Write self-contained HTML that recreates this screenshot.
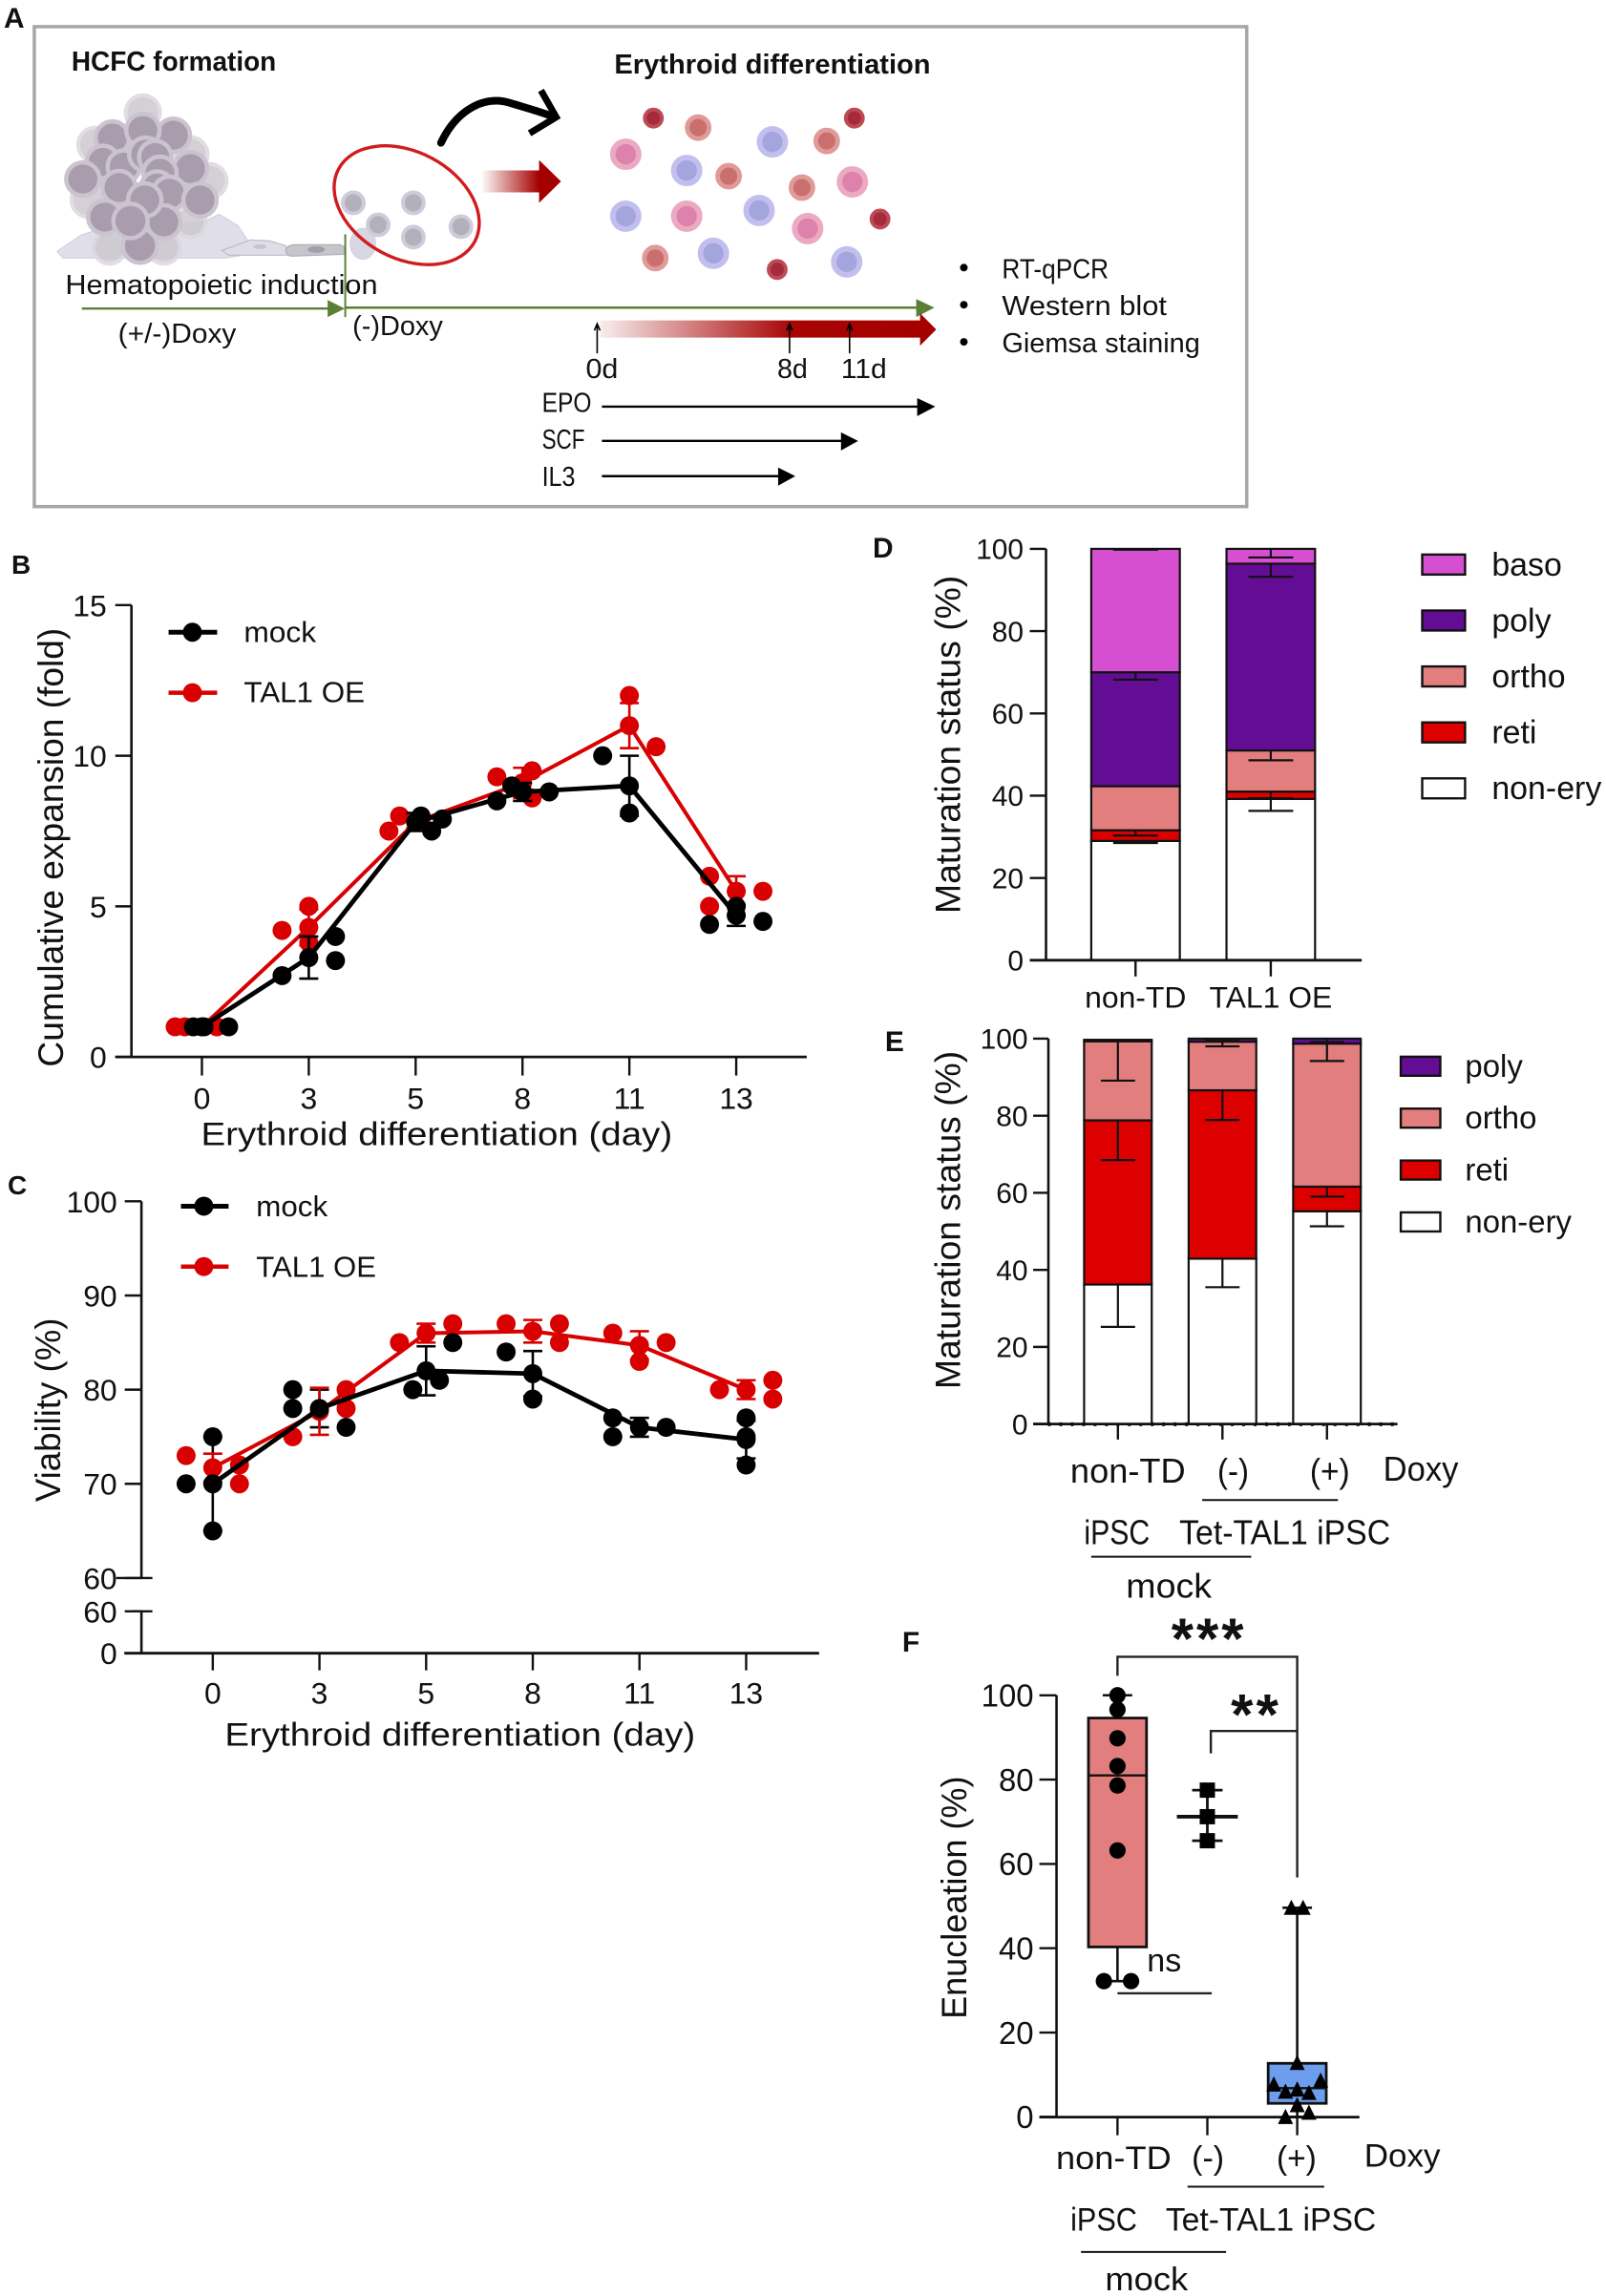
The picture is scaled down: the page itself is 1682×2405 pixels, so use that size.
<!DOCTYPE html>
<html lang="en">
<head>
<meta charset="utf-8">
<title>HCFC erythroid differentiation figure</title>
<style>
html,body{margin:0;padding:0;background:#fff;}
svg{display:block;font-family:"Liberation Sans",Arial,sans-serif;}
text{fill:#111;}
.t{font-size:29px;}
.b{font-weight:bold;}
.pl{font-weight:bold;font-size:30px;}
</style>
</head>
<body>
<svg id="fig" xmlns="http://www.w3.org/2000/svg" width="1682" height="2405" viewBox="0 0 1682 2405">
<defs>
<linearGradient id="g1" gradientUnits="userSpaceOnUse" x1="505" y1="0" x2="566" y2="0"><stop offset="0" stop-color="#fff"/><stop offset="1" stop-color="#a50000"/></linearGradient>
<linearGradient id="g2" gradientUnits="userSpaceOnUse" x1="630" y1="0" x2="966" y2="0"><stop offset="0" stop-color="#f8eeee"/><stop offset="0.6" stop-color="#a80505"/><stop offset="1" stop-color="#a50000"/></linearGradient>
</defs>
<rect width="1682" height="2405" fill="#fff"/>

<g id="panelA" transform="scale(0.9975)">
<text class="pl" x="4" y="29">A</text>
<rect x="36" y="28" width="1273" height="504" fill="none" stroke="#a6a6a6" stroke-width="3.5"/>
<text class="t b" x="75" y="74" textLength="215" lengthAdjust="spacingAndGlyphs">HCFC formation</text>
<text class="t b" x="645" y="77" textLength="332" lengthAdjust="spacingAndGlyphs">Erythroid differentiation</text>

<path d="M60,264 L70,257 L85,247 L100,242 L213,233 L230,225 L250,237 L265,260 L260,267 L237,271 L66,271 Z" fill="#dfdee9" stroke="#cfcdda" stroke-width="1"/>
<path d="M233,263 L263,252 L283,253 L300,258 L303,268 L240,268 Z" fill="#dfdde8" stroke="#bdbbc6" stroke-width="1.2"/>
<path d="M300,262 Q302,257 310,257 L357,257 Q362,258 362,263 L362,267 L306,269 Q300,268 300,262 Z" fill="#c7c5cc" stroke="#b0aeb6" stroke-width="1.2"/>
<ellipse cx="332" cy="262" rx="9" ry="3.5" fill="#a09ea8"/>
<ellipse cx="273" cy="259" rx="7" ry="2.5" fill="#c6c4d0"/>
<ellipse cx="381" cy="256" rx="14" ry="17" fill="#d8d6e2"/>

<g fill="#cdc8d0" stroke="#dcd8df" stroke-width="4" opacity="0.85">
<circle cx="150" cy="118" r="18"/><circle cx="100" cy="152" r="18"/><circle cx="200" cy="162" r="18"/><circle cx="220" cy="190" r="18"/><circle cx="93" cy="210" r="18"/><circle cx="115" cy="260" r="17"/><circle cx="200" cy="233" r="16"/><circle cx="172" cy="260" r="17"/>
</g>
<g fill="#a99dad" stroke="#cbc4d0" stroke-width="4.5">
<circle cx="182" cy="142" r="17.5"/><circle cx="118" cy="145" r="17.5"/><circle cx="150" cy="137" r="17.5"/><circle cx="108" cy="170" r="17"/><circle cx="130" cy="175" r="17"/><circle cx="153" cy="162" r="17.5"/><circle cx="163" cy="165" r="17"/><circle cx="200" cy="177" r="17.5"/><circle cx="87" cy="188" r="17.5"/><circle cx="168" cy="182" r="17.5"/><circle cx="165" cy="197" r="17"/><circle cx="178" cy="203" r="17.5"/><circle cx="125" cy="197" r="17.5"/><circle cx="210" cy="210" r="17.5"/><circle cx="147" cy="258" r="18"/><circle cx="172" cy="233" r="17.5"/><circle cx="152" cy="210" r="17.5"/><circle cx="110" cy="228" r="17.5"/><circle cx="137" cy="232" r="18"/>
</g>
<g fill="#b3b0bc" stroke="#cfccd9" stroke-width="4">
<circle cx="371" cy="213" r="11"/><circle cx="434" cy="213" r="11"/><circle cx="397" cy="236" r="11"/><circle cx="434" cy="249" r="11"/><circle cx="484" cy="238" r="11"/>
</g>
<ellipse cx="427" cy="215.5" rx="81" ry="56" transform="rotate(28 427 215.5)" fill="none" stroke="#d01c1f" stroke-width="3.4"/>
<path d="M463,150 C480,114 510,100 535,108 C555,114 570,118 582,123" fill="none" stroke="#000" stroke-width="8" stroke-linecap="round"/>
<path d="M568,95 L584,123 L556,140" fill="none" stroke="#000" stroke-width="7"/>
<path d="M505,179 L566,179 L566,168 L589,190.5 L566,213 L566,202 L505,202 Z" fill="url(#g1)"/>

<g stroke-width="3.9" fill="#a52a3a" stroke="#bd4a55">
<circle cx="686" cy="124" r="9"/><circle cx="897" cy="124" r="9"/><circle cx="924" cy="230" r="9"/><circle cx="816" cy="283" r="9"/>
</g>
<g stroke-width="4.9" fill="#c9706e" stroke="#e09a98">
<circle cx="733" cy="134" r="11.5"/><circle cx="868" cy="148" r="11.5"/><circle cx="765" cy="185" r="11.5"/><circle cx="842" cy="197" r="11.5"/><circle cx="688" cy="271" r="11.5"/>
</g>
<g stroke-width="5.8" fill="#dd82ac" stroke="#eba9c2">
<circle cx="657" cy="162" r="13.6"/><circle cx="895" cy="191" r="13.6"/><circle cx="721" cy="227" r="13.6"/><circle cx="848" cy="240" r="13.6"/>
</g>
<g stroke-width="5.8" fill="#a5a5de" stroke="#c2bfee">
<circle cx="811" cy="149" r="13.6"/><circle cx="721" cy="179" r="13.6"/><circle cx="657" cy="227" r="13.6"/><circle cx="797" cy="221" r="13.6"/><circle cx="749" cy="266" r="13.6"/><circle cx="889" cy="275" r="13.6"/>
</g>

<text class="t" x="68.5" y="309" textLength="328" lengthAdjust="spacingAndGlyphs">Hematopoietic induction</text>
<line x1="362.5" y1="246" x2="362.5" y2="333" stroke="#5b7f34" stroke-width="2"/>
<line x1="86" y1="324" x2="346" y2="324" stroke="#5b7f34" stroke-width="2.5"/>
<path d="M344,315 L362,324 L344,333 Z" fill="#5b7f34"/>
<line x1="363" y1="323" x2="964" y2="323" stroke="#5b7f34" stroke-width="2.5"/>
<path d="M962,314 L981,323 L962,333 Z" fill="#5b7f34"/>
<text class="t" x="124" y="360" textLength="124" lengthAdjust="spacingAndGlyphs">(+/-)Doxy</text>
<text class="t" x="370" y="352" textLength="95" lengthAdjust="spacingAndGlyphs">(-)Doxy</text>
<path d="M630,336.5 L966,336.5 L966,329 L983,346 L966,363 L966,354.5 L630,354.5 Z" fill="url(#g2)"/>
<g stroke="#000" stroke-width="1.6" fill="none">
<path d="M627,371 L627,341 M624,347 L627,340 L630,347"/><path d="M829,371 L829,341 M826,347 L829,340 L832,347"/><path d="M892,371 L892,341 M889,347 L892,340 L895,347"/>
</g>
<text class="t" x="615" y="397" textLength="34" lengthAdjust="spacingAndGlyphs">0d</text>
<text class="t" x="816" y="397" textLength="32" lengthAdjust="spacingAndGlyphs">8d</text>
<text class="t" x="883" y="397" textLength="48" lengthAdjust="spacingAndGlyphs">11d</text>
<text class="t" x="569" y="432.5" textLength="52" lengthAdjust="spacingAndGlyphs">EPO</text>
<line x1="632" y1="427" x2="965" y2="427" stroke="#000" stroke-width="2.4"/>
<path d="M963,418 L982,427 L963,437 Z" fill="#000"/>
<text class="t" x="569" y="471" textLength="45" lengthAdjust="spacingAndGlyphs">SCF</text>
<line x1="632" y1="463" x2="885" y2="463" stroke="#000" stroke-width="2.4"/>
<path d="M883,454 L901,463 L883,473 Z" fill="#000"/>
<text class="t" x="569" y="510.5" textLength="35" lengthAdjust="spacingAndGlyphs">IL3</text>
<line x1="632" y1="500" x2="819" y2="500" stroke="#000" stroke-width="2.4"/>
<path d="M817,491 L835,500 L817,510 Z" fill="#000"/>
<circle cx="1012" cy="281" r="4" fill="#000"/>
<circle cx="1012" cy="320" r="4" fill="#000"/>
<circle cx="1012" cy="359" r="4" fill="#000"/>
<text class="t" x="1052" y="292" textLength="112" lengthAdjust="spacingAndGlyphs">RT-qPCR</text>
<text class="t" x="1052" y="331" textLength="173" lengthAdjust="spacingAndGlyphs">Western blot</text>
<text class="t" x="1052" y="370" textLength="208" lengthAdjust="spacingAndGlyphs">Giemsa staining</text>
</g>

<g id="panelB" transform="translate(0,560) scale(0.9975) translate(0,-560)">
<text class="pl" x="12" y="601" style="font-size:28px">B</text>
<text x="0" y="0" transform="translate(66,1119) rotate(-90)" style="font-size:37px" textLength="461" lengthAdjust="spacingAndGlyphs">Cumulative expansion (fold)</text>
<text x="211" y="1201" style="font-size:34px" textLength="495" lengthAdjust="spacingAndGlyphs">Erythroid differentiation (day)</text>
<line x1="177" y1="662.5" x2="228" y2="662.5" stroke="#000" stroke-width="5"/>
<circle cx="202" cy="662.5" r="10" fill="#000"/>
<text x="256" y="673" style="font-size:31px" textLength="76" lengthAdjust="spacingAndGlyphs">mock</text>
<line x1="177" y1="726" x2="228" y2="726" stroke="#d80000" stroke-width="4.5"/>
<circle cx="202" cy="726" r="10" fill="#d80000"/>
<text x="256" y="736" style="font-size:31px" textLength="127" lengthAdjust="spacingAndGlyphs">TAL1 OE</text>
</g>

<g id="panelC" transform="translate(0,1210) scale(0.9975) translate(0,-1210)">
<text class="pl" x="8" y="1251" style="font-size:28px">C</text>
<text x="0" y="0" transform="translate(63,1574) rotate(-90)" style="font-size:37px" textLength="193" lengthAdjust="spacingAndGlyphs">Viability (%)</text>
<text x="236" y="1830" style="font-size:34px" textLength="494" lengthAdjust="spacingAndGlyphs">Erythroid differentiation (day)</text>
<line x1="190" y1="1263.6" x2="240" y2="1263.6" stroke="#000" stroke-width="5"/>
<circle cx="214" cy="1263.6" r="10" fill="#000"/>
<text x="269" y="1274" style="font-size:31px" textLength="75" lengthAdjust="spacingAndGlyphs">mock</text>
<line x1="190" y1="1327" x2="240" y2="1327" stroke="#d80000" stroke-width="4.5"/>
<circle cx="214" cy="1327" r="10" fill="#d80000"/>
<text x="269" y="1338" style="font-size:31px" textLength="126" lengthAdjust="spacingAndGlyphs">TAL1 OE</text>
</g>

<g id="panelD" transform="translate(900,540) scale(0.9975) translate(-900,-540)">
<text class="pl" x="914" y="584">D</text>
<text x="0" y="0" transform="translate(1006,958) rotate(-90)" style="font-size:37px" textLength="355" lengthAdjust="spacingAndGlyphs">Maturation status (%)</text>
</g>

<g id="panelE" transform="translate(900,1060) scale(0.9975) translate(-900,-1060)">
<text class="pl" x="927" y="1101">E</text>
<text x="0" y="0" transform="translate(1006,1456) rotate(-90)" style="font-size:37px" textLength="355" lengthAdjust="spacingAndGlyphs">Maturation status (%)</text>
<line x1="1098" y1="1493" x2="1465" y2="1493" stroke="#111" stroke-width="4" stroke-dasharray="3 9"/>
<text x="1121.5" y="1554" style="font-size:36px" textLength="121" lengthAdjust="spacingAndGlyphs">non-TD</text>
<text x="1276" y="1554" style="font-size:36px" textLength="33" lengthAdjust="spacingAndGlyphs">(-)</text>
<text x="1373" y="1554" style="font-size:36px" textLength="42" lengthAdjust="spacingAndGlyphs">(+)</text>
<text x="1450" y="1552" style="font-size:36px" textLength="79" lengthAdjust="spacingAndGlyphs">Doxy</text>
<line x1="1260" y1="1572.5" x2="1402.5" y2="1572.5" stroke="#111" stroke-width="2"/>
<text x="1136" y="1619" style="font-size:36px" textLength="69" lengthAdjust="spacingAndGlyphs">iPSC</text>
<text x="1236" y="1619" style="font-size:36px" textLength="221.5" lengthAdjust="spacingAndGlyphs">Tet-TAL1 iPSC</text>
<line x1="1143.5" y1="1632" x2="1311.5" y2="1632" stroke="#111" stroke-width="2"/>
<text x="1180" y="1675" style="font-size:36px" textLength="90" lengthAdjust="spacingAndGlyphs">mock</text>
</g>

<g id="panelF" transform="translate(920,1680) scale(0.9975) translate(-920,-1680)">
<text class="pl" x="945" y="1730">F</text>
<text x="0" y="0" transform="translate(1012,2116) rotate(-90)" style="font-size:37px" textLength="255" lengthAdjust="spacingAndGlyphs">Enucleation (%)</text>
<path d="M1171,1755.6 L1171,1735.6 L1359.7,1735.6 L1359.7,1967.4" fill="none" stroke="#222" stroke-width="2.4"/>
<path d="M1269,1837 L1269,1813.5 L1359.7,1813.5" fill="none" stroke="#222" stroke-width="2.4"/>
<text class="b" x="1227.5" y="1737" style="font-size:60px" textLength="76" lengthAdjust="spacing">***</text>
<text class="b" x="1290" y="1817" style="font-size:60px" textLength="50" lengthAdjust="spacing">**</text>
<text x="1202" y="2066" style="font-size:34px" textLength="36" lengthAdjust="spacingAndGlyphs">ns</text>
<line x1="1171" y1="2089" x2="1270" y2="2089" stroke="#222" stroke-width="2.4"/>
<text x="1106.5" y="2273.4" style="font-size:34px" textLength="121" lengthAdjust="spacingAndGlyphs">non-TD</text>
<text x="1249" y="2273.4" style="font-size:34px" textLength="34" lengthAdjust="spacingAndGlyphs">(-)</text>
<text x="1338" y="2273.4" style="font-size:34px" textLength="42" lengthAdjust="spacingAndGlyphs">(+)</text>
<text x="1430" y="2271" style="font-size:34px" textLength="80" lengthAdjust="spacingAndGlyphs">Doxy</text>
<line x1="1244.6" y1="2292" x2="1388" y2="2292" stroke="#111" stroke-width="2"/>
<text x="1121.6" y="2338" style="font-size:34px" textLength="70" lengthAdjust="spacingAndGlyphs">iPSC</text>
<text x="1221.6" y="2338" style="font-size:34px" textLength="221" lengthAdjust="spacingAndGlyphs">Tet-TAL1 iPSC</text>
<line x1="1132.7" y1="2360.6" x2="1285" y2="2360.6" stroke="#111" stroke-width="2"/>
<text x="1158" y="2401" style="font-size:34px" textLength="87" lengthAdjust="spacingAndGlyphs">mock</text>
</g>
</svg>

<script>
/* ---------- Panel B data: cumulative expansion (fold) ---------- */
const dayLabels = ['0', '3', '5', '8', '11', '13'];
const expansionTicks = [0, 5, 10, 15];
const expMockMean = [1, 3.3, 7.8, 8.8, 9, 4.7];
const expMockSD = [0, 0.7, 0.3, 0.3, 1, 0.35];
const expMockReps = [[1, 1, 1], [2.7, 4, 3.2], [8, 7.5, 7.9], [8.5, 9, 8.8], [10, 8.1], [4.4, 5, 4.5]];
const expMockSwarm = [[-0.08, 0.02, 0.25], [-0.25, 0.25, 0.25], [0.05, 0.15, 0.25], [-0.24, -0.1, 0.25], [-0.25, 0], [-0.25, 0, 0.25]];
const expTalMean = [1, 4.3, 7.8, 9.1, 11, 5.5];
const expTalSD = [0, 0.6, 0.2, 0.5, 0.75, 0.5];
const expTalReps = [[1, 1, 1], [4.2, 5, 3.8], [7.5, 8, 7.8], [9.3, 9.5, 8.6], [12, 10.3], [6, 5, 5.5]];
const expTalSwarm = [[-0.25, -0.16, 0.14], [-0.25, 0, 0], [-0.25, -0.15, 0.05], [-0.24, 0.09, 0.09], [0, 0.25], [-0.25, -0.25, 0.25]];

/* ---------- Panel C data: viability (%) ---------- */
const viabilityTicks = [60, 70, 80, 90, 100];
const viabilityLowerTicks = [0, 60];
const viaMockMean = [70, 78, 82, 81.7, 76, 74.7];
const viaMockSD = [5, 2, 2.6, 2.4, 1, 2];
const viaMockReps = [[70, 75, 65], [80, 78, 76], [80, 81, 85], [84, 79], [77, 75, 76], [77, 75, 72]];
const viaMockSwarm = [[-0.25, 0, 0], [-0.25, -0.25, 0.25], [-0.125, 0.125, 0.25], [-0.25, 0], [-0.25, -0.25, 0.25], [0, 0, 0]];
const viaTalMean = [71.7, 77.7, 86, 86.2, 84.7, 80];
const viaTalSD = [1.5, 2.5, 1, 1.2, 1.5, 1];
const viaTalReps = [[73, 72, 70], [75, 80, 78], [85, 87], [87, 87, 85], [86, 83, 85], [80, 81, 79]];
const viaTalSwarm = [[-0.25, 0.25, 0.25], [-0.25, 0.25, 0.25], [-0.25, 0.25], [-0.25, 0.25, 0.25], [-0.25, 0, 0.25], [-0.25, 0.25, 0.25]];

/* ---------- Panel D data: stacked maturation status (%) ---------- */
const statusTicks = [0, 20, 40, 60, 80, 100];
const dGroups = ['non-TD', 'TAL1 OE'];
const dNonEry = [29, 39.2];
const dReti = [2.6, 1.8];
const dOrtho = [10.7, 10];
const dPoly = [27.7, 45.4];
const dBaso = [30, 3.6];
const dNonEryErr = [0.5, 2.9];
const dRetiErr = [1.3, 1.6];
const dOrthoErr = [0, 2.4];
const dPolyErr = [1.8, 3.2];
const dBasoErr = [0.2, 2.1];
const dLegend = ['baso', 'poly', 'ortho', 'reti', 'non-ery'];

/* ---------- Panel E data: stacked maturation status (%) ---------- */
const eNonEry = [36.2, 42.9, 55.2];
const eReti = [42.6, 43.7, 6.4];
const eOrtho = [20.5, 12.6, 37.1];
const ePoly = [0.4, 0.8, 1.3];
const eNonEryErr = [11, 7.4, 3.9];
const eRetiErr = [10.3, 7.7, 2.6];
const eOrthoErr = [10.2, 1.2, 4.5];
const ePolyErr = [0, 0.3, 0.9];
const eLegend = ['poly', 'ortho', 'reti', 'non-ery'];

/* ---------- Panel F data: enucleation (%) ---------- */
const enucTicks = [0, 20, 40, 60, 80, 100];
const enucNonTD = [100, 96.6, 89.8, 83.2, 78.6, 63.2, 32.2, 32.2];
const enucNonTDSwarm = [0, 0, 0, 0, 0, 0, -1.16, 1.16];
const enucNonTDBox = [40.3, 81, 94.6];
const enucMinus = [77.5, 71.2, 65.5];
const enucPlus = [49.6, 49.6, 12.8, 7.7, 8.6, 6, 6.5, 5.7, 2.8, 1, 0];
const enucPlusSwarm = [-0.5, 0.5, 0, -2, 2, -1, 0, 1, 0, 1, -1];
const enucPlusBox = [3.2, 6.8, 12.7];

const SVGNS = 'http://www.w3.org/2000/svg';
const INK = '#111';
const RED = '#d80000';
const segColors = { baso: '#d64fd0', poly: '#630d94', ortho: '#e37e7e', reti: '#dc0000', 'non-ery': '#ffffff' };

function mk(tag, attrs, parent) {
  const el = document.createElementNS(SVGNS, tag);
  for (const k in attrs) el.setAttribute(k, attrs[k]);
  parent.appendChild(el);
  return el;
}

function yAxis(parent, x, x0, top, bottom, ticks, yFn, fontSize, labelRight, prefix) {
  const axis = mk('line', { x1: x, x2: x, y1: top, y2: bottom, stroke: INK, 'stroke-width': 2.6 }, parent);
  
  
  ticks.forEach(function (t) {
    const tick = mk('line', { x1: x0, x2: x, y1: yFn(t), y2: yFn(t), stroke: INK, 'stroke-width': 2.4 }, parent);
    
    
    const lab = mk('text', { x: labelRight, y: yFn(t) + fontSize * 0.36, 'text-anchor': 'end', 'font-size': fontSize }, parent);
    lab.textContent = String(t);
    
    
  });
}

function xAxis(parent, x0, x1, y, tickBottom, n, xFn, prefix) {
  const axis = mk('line', { x1: x0, x2: x1, y1: y, y2: y, stroke: INK, 'stroke-width': 2.8 }, parent);
  
  
  for (let i = 0; i < n; i++) {
    const tick = mk('line', { x1: xFn(i), x2: xFn(i), y1: y, y2: tickBottom, stroke: INK, 'stroke-width': 2.4 }, parent);
    
    
  }
}

function xLabels(parent, labels, xFn, y, fontSize, prefix) {
  labels.forEach(function (l, i) {
    const t = mk('text', { x: xFn(i), y: y, 'text-anchor': 'middle', 'font-size': fontSize }, parent);
    t.textContent = l;
    
    
  });
}

function errorBars(parent, means, sd, xFn, yFn, color, label) {
  means.forEach(function (m, i) {
    if (!sd[i]) return;
    const cx = xFn(i);
    const hi = yFn(m + sd[i]);
    const lo = yFn(m - sd[i]);
    const bar = mk('path', {
      d: 'M' + cx + ',' + hi + ' L' + cx + ',' + lo + ' M' + (cx - 10) + ',' + hi + ' L' + (cx + 10) + ',' + hi + ' M' + (cx - 10) + ',' + lo + ' L' + (cx + 10) + ',' + lo,
      fill: 'none', stroke: color, 'stroke-width': 2.6
    }, parent);
    
    
  });
}

function meanLine(parent, means, xFn, yFn, color, width, label) {
  const pts = means.map(function (m, i) { return xFn(i) + ',' + yFn(m); }).join(' ');
  const line = mk('polyline', { points: pts, fill: 'none', stroke: color, 'stroke-width': width, 'stroke-linejoin': 'round' }, parent);
  
  
}

function dots(parent, means, reps, swarm, step, xFn, yFn, color, label) {
  means.forEach(function (m, i) {
    const c = mk('circle', { cx: xFn(i), cy: yFn(m), r: 10, fill: color }, parent);
    
    
    reps[i].forEach(function (v, j) {
      const p = mk('circle', { cx: xFn(i) + swarm[i][j] * step, cy: yFn(v), r: 10, fill: color }, parent);
      
      
    });
  });
}

function stacked(parent, series, xFn, yFn, barW, capHalf, prefix) {
  const n = series[0].values.length;
  for (let i = 0; i < n; i++) {
    let base = 0;
    const caps = [];
    series.forEach(function (s) {
      const top = base + s.values[i];
      const r = mk('rect', {
        x: xFn(i) - barW / 2, y: yFn(top), width: barW, height: yFn(base) - yFn(top),
        fill: segColors[s.name], stroke: INK, 'stroke-width': 2.2
      }, parent);
      
      
      caps.push({ top: top, err: s.err[i], name: s.name });
      base = top;
    });
    caps.forEach(function (c) {
      if (!c.err) return;
      const cx = xFn(i);
      const y0 = yFn(c.top);
      const y1 = yFn(c.top - c.err);
      const e = mk('path', {
        d: 'M' + cx + ',' + y0 + ' L' + cx + ',' + y1 + ' M' + (cx - capHalf) + ',' + y1 + ' L' + (cx + capHalf) + ',' + y1,
        fill: 'none', stroke: INK, 'stroke-width': 2.2
      }, parent);
      
      
    });
  }
}

function legend(parent, names, sx, sw, sh, firstTop, stepY, tx, fontSize, prefix) {
  names.forEach(function (nm, i) {
    const y = firstTop + i * stepY;
    const r = mk('rect', { x: sx, y: y, width: sw, height: sh, fill: segColors[nm], stroke: INK, 'stroke-width': 2.4 }, parent);
    
    
    const t = mk('text', { x: tx, y: y + sh + 1, 'font-size': fontSize }, parent);
    t.textContent = nm;
    
    
  });
}

/* ---------- Panel B ---------- */
const gB = document.getElementById('panelB');
const xB = function (i) { return 212 + i * 112.2; };
const yB = function (v) { return 1108.5 - v * 31.63; };
yAxis(gB, 138, 121, 634, 1108.5, expansionTicks, yB, 32, 112, 'expansion');
xAxis(gB, 121, 847, 1108.5, 1128, dayLabels.length, xB, 'expansion');
xLabels(gB, dayLabels, xB, 1163, 32, 'expansion');
errorBars(gB, expTalMean, expTalSD, xB, yB, RED, 'tal1');
meanLine(gB, expTalMean, xB, yB, RED, 4, 'tal1');
dots(gB, expTalMean, expTalReps, expTalSwarm, 112.2, xB, yB, RED, 'tal1');
errorBars(gB, expMockMean, expMockSD, xB, yB, '#000', 'mock');
meanLine(gB, expMockMean, xB, yB, '#000', 4.8, 'mock');
dots(gB, expMockMean, expMockReps, expMockSwarm, 112.2, xB, yB, '#000', 'mock');

/* ---------- Panel C ---------- */
const gC = document.getElementById('panelC');
const xC = function (i) { return 223.4 + i * 112; };
const yC = function (v) { return 1654 - (v - 60) * 9.888; };
const yCLow = function (v) { return 1733 - v * 0.7333; };
yAxis(gC, 148.5, 131, 1258.5, 1654, viabilityTicks, yC, 32, 123, 'viability');
yAxis(gC, 148.5, 131, 1689, 1733, viabilityLowerTicks, yCLow, 32, 123, 'viability-lower');
const breakTop = mk('line', { x1: 122, x2: 160, y1: yC(60), y2: yC(60), stroke: INK, 'stroke-width': 2.4 }, gC);


const breakLow = mk('line', { x1: 138, x2: 160, y1: yCLow(60), y2: yCLow(60), stroke: INK, 'stroke-width': 2.4 }, gC);


xAxis(gC, 130.5, 860, 1733, 1751, dayLabels.length, xC, 'viability');
xLabels(gC, dayLabels, xC, 1786, 32, 'viability');
errorBars(gC, viaMockMean, viaMockSD, xC, yC, '#000', 'mock');
errorBars(gC, viaTalMean, viaTalSD, xC, yC, RED, 'tal1');
meanLine(gC, viaTalMean, xC, yC, RED, 4, 'tal1');
dots(gC, viaTalMean, viaTalReps, viaTalSwarm, 112, xC, yC, RED, 'tal1');
meanLine(gC, viaMockMean, xC, yC, '#000', 4.8, 'mock');
dots(gC, viaMockMean, viaMockReps, viaMockSwarm, 112, xC, yC, '#000', 'mock');

/* ---------- Panel D ---------- */
const gD = document.getElementById('panelD');
const xD = function (i) { return 1190 + i * 142; };
const yD = function (v) { return 1007 - v * 4.32; };
stacked(gD, [
  { name: 'non-ery', values: dNonEry, err: dNonEryErr },
  { name: 'reti', values: dReti, err: dRetiErr },
  { name: 'ortho', values: dOrtho, err: dOrthoErr },
  { name: 'poly', values: dPoly, err: dPolyErr },
  { name: 'baso', values: dBaso, err: dBasoErr }
], xD, yD, 93, 23.5, 'status-d');
yAxis(gD, 1096, 1079, 575, 1007, statusTicks, yD, 30, 1072.5, 'status-d');
xAxis(gD, 1079, 1427.5, 1007, 1024, dGroups.length, xD, 'status-d');
xLabels(gD, dGroups, xD, 1057, 32, 'status-d');
legend(gD, dLegend, 1491, 45, 21, 581, 58.75, 1564, 34, 'status-d');

/* ---------- Panel E ---------- */
const gE = document.getElementById('panelE');
const xE = function (i) { return 1171.5 + i * 109.75; };
const yE = function (v) { return 1492.7 - v * 4.047; };
stacked(gE, [
  { name: 'non-ery', values: eNonEry, err: eNonEryErr },
  { name: 'reti', values: eReti, err: eRetiErr },
  { name: 'ortho', values: eOrtho, err: eOrthoErr },
  { name: 'poly', values: ePoly, err: ePolyErr }
], xE, yE, 71, 18, 'status-e');
yAxis(gE, 1098.5, 1082.5, 1088, 1492.7, statusTicks, yE, 30, 1077, 'status-e');
xAxis(gE, 1082.5, 1465, 1492.7, 1509, eNonEry.length, xE, 'status-e');
legend(gE, eLegend, 1468.5, 41.5, 20, 1107, 54.5, 1536, 33, 'status-e');

/* ---------- Panel F ---------- */
const gF = document.getElementById('panelF');
const xF = function (i) { return 1171 + i * 94.35; };
const yF = function (v) { return 2218.7 - v * 4.427; };
const boxW = 61;
function boxPlot(i, box, data, fill, label) {
  const cx = xF(i);
  const whisk = mk('path', {
    d: 'M' + cx + ',' + yF(Math.max.apply(null, data)) + ' L' + cx + ',' + yF(Math.min.apply(null, data)) +
       ' M' + (cx - 15.5) + ',' + yF(Math.max.apply(null, data)) + ' L' + (cx + 15.5) + ',' + yF(Math.max.apply(null, data)) +
       ' M' + (cx - 15.5) + ',' + yF(Math.min.apply(null, data)) + ' L' + (cx + 15.5) + ',' + yF(Math.min.apply(null, data)),
    fill: 'none', stroke: INK, 'stroke-width': 2.6
  }, gF);
  
  
  const r = mk('rect', { x: cx - boxW / 2, y: yF(box[2]), width: boxW, height: yF(box[0]) - yF(box[2]), fill: fill, stroke: INK, 'stroke-width': 2.8 }, gF);
  
  
  const med = mk('line', { x1: cx - boxW / 2 - 1, x2: cx + boxW / 2 + 1, y1: yF(box[1]), y2: yF(box[1]), stroke: INK, 'stroke-width': 2.4 }, gF);
  
  
}
boxPlot(0, enucNonTDBox, enucNonTD, '#e37e7e', 'non-td');
boxPlot(2, enucPlusBox, enucPlus, '#6d9eee', 'tet-tal1-plus');
yAxis(gF, 1107, 1089, 1776, 2219, enucTicks, yF, 33, 1083, 'enucleation');
xAxis(gF, 1089, 1425, 2219, 2238, 3, xF, 'enucleation');
enucNonTD.forEach(function (v, j) {
  const p = mk('circle', { cx: xF(0) + enucNonTDSwarm[j] * 12.3, cy: yF(v), r: 8.6, fill: '#000' }, gF);
  
  
});
const minusSorted = enucMinus.slice().sort(function (a, b) { return a - b; });
const minusMedian = minusSorted[1];
const minusSpan = mk('path', {
  d: 'M' + xF(1) + ',' + yF(minusSorted[2]) + ' L' + xF(1) + ',' + yF(minusSorted[0]) +
     ' M' + (xF(1) - 16) + ',' + yF(minusSorted[2]) + ' L' + (xF(1) + 16) + ',' + yF(minusSorted[2]) +
     ' M' + (xF(1) - 16) + ',' + yF(minusSorted[0]) + ' L' + (xF(1) + 16) + ',' + yF(minusSorted[0]),
  fill: 'none', stroke: INK, 'stroke-width': 2.8
}, gF);


const minusMed = mk('line', { x1: xF(1) - 32, x2: xF(1) + 32, y1: yF(minusMedian), y2: yF(minusMedian), stroke: INK, 'stroke-width': 4 }, gF);


enucMinus.forEach(function (v) {
  const s = mk('rect', { x: xF(1) - 8, y: yF(v) - 8, width: 16, height: 16, fill: '#000' }, gF);
  
  
});
enucPlus.forEach(function (v, j) {
  const cx = xF(2) + enucPlusSwarm[j] * 12.3;
  const cy = yF(v);
  const tri = mk('path', { d: 'M' + cx + ',' + (cy - 8.5) + ' L' + (cx + 8) + ',' + (cy + 7.5) + ' L' + (cx - 8) + ',' + (cy + 7.5) + ' Z', fill: '#000' }, gF);
  
  
});
</script>
</body>
</html>
